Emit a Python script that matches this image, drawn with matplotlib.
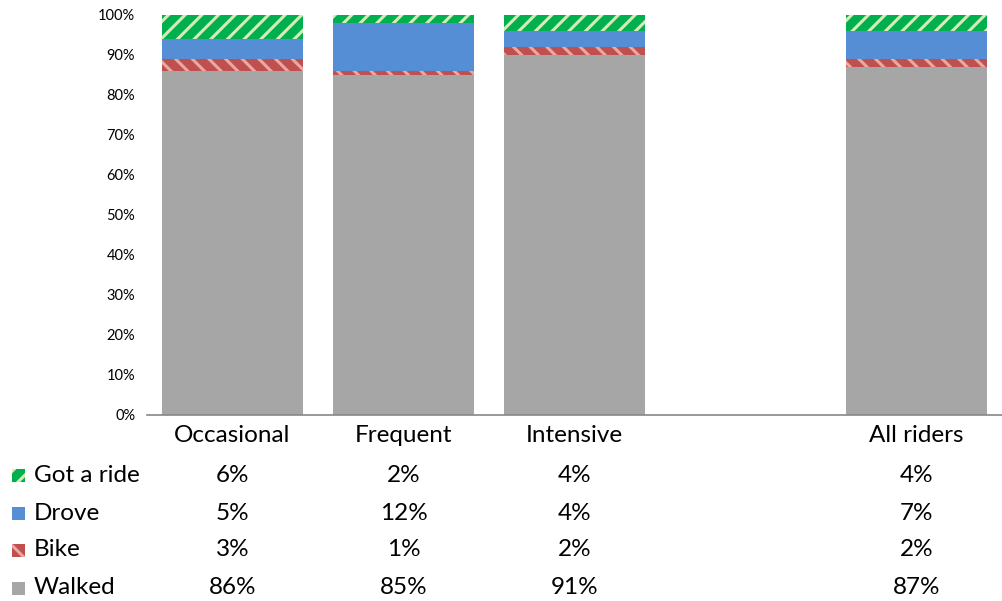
import numpy as np
import matplotlib.pyplot as plt
from matplotlib.patches import Rectangle
from matplotlib.transforms import blended_transform_factory

plt.rcParams['font.family'] = ['Lato', 'DejaVu Sans']
plt.rcParams['hatch.linewidth'] = 2.2

# rider groups (the empty slot leaves a gap before the overall column)
categories = ['Occasional', 'Frequent', 'Intensive', '', 'All riders']
walked = [86, 85, 91, 0, 87]
bike = [3, 1, 2, 0, 2]
drove = [5, 12, 4, 0, 7]
got_ride = [6, 2, 4, 0, 4]

series = [
    ('Walked', walked, '#a6a6a6', None, '#a6a6a6'),
    ('Bike', bike, '#c0504d', '\\\\', '#e8a8a4'),
    ('Drove', drove, '#558ed5', None, '#558ed5'),
    ('Got a ride', got_ride, '#00b050', '//', '#d8ebb4'),
]

totals = np.array(walked) + np.array(bike) + np.array(drove) + np.array(got_ride)
totals = np.where(totals == 0, 1, totals)

fig = plt.figure(figsize=(10.02, 6.01), dpi=100)
ax = fig.add_axes([0.1467, 0.3095, 0.8533, 0.6656])

x = np.arange(len(categories))
bottom = np.zeros(len(categories))
for name, vals, color, hatch, hcolor in series:
    share = np.array(vals) / totals
    ax.bar(x, share, 0.83, bottom=bottom, color=color, hatch=hatch,
           edgecolor=hcolor, linewidth=0)
    bottom += share

ax.set_xlim(-0.5, len(categories) - 0.5)
ax.set_ylim(0, 1)
ax.set_yticks(np.arange(0, 1.01, 0.1))
ax.set_yticklabels([f'{int(round(v * 100))}%' for v in np.arange(0, 1.01, 0.1)],
                   fontsize=10.5)
ax.set_xticks([])
ax.tick_params(axis='y', length=0, pad=8.5)
for side in ['left', 'right', 'top']:
    ax.spines[side].set_visible(False)
ax.spines['bottom'].set_color('#868686')
ax.spines['bottom'].set_linewidth(1.2)

# data table under the chart
trans = blended_transform_factory(ax.transData, fig.transFigure)
for i, cat in enumerate(categories):
    if cat:
        ax.text(i, 1 - 436 / 601, cat, transform=trans, ha='center',
                va='center', fontsize=17.5)

rows = [
    ('Got a ride', got_ride, '#00b050', '//', '#d8ebb4', 475),
    ('Drove', drove, '#558ed5', None, '#558ed5', 513),
    ('Bike', bike, '#c0504d', '\\\\', '#e8a8a4', 550),
    ('Walked', walked, '#a6a6a6', None, '#a6a6a6', 588),
]
for name, vals, color, hatch, hcolor, ypix in rows:
    yf = 1 - ypix / 601
    fig.patches.append(Rectangle((12 / 1002, yf - 6.5 / 601), 13 / 1002, 13 / 601,
                                 transform=fig.transFigure, facecolor=color,
                                 hatch=hatch, edgecolor=hcolor, linewidth=0))
    fig.text(34 / 1002, yf, name, ha='left', va='center', fontsize=17.5)
    for i, cat in enumerate(categories):
        if cat:
            ax.text(i, yf, f'{vals[i]}%', transform=trans, ha='center',
                    va='center', fontsize=17.5)

fig.savefig('out.png', dpi=100)
